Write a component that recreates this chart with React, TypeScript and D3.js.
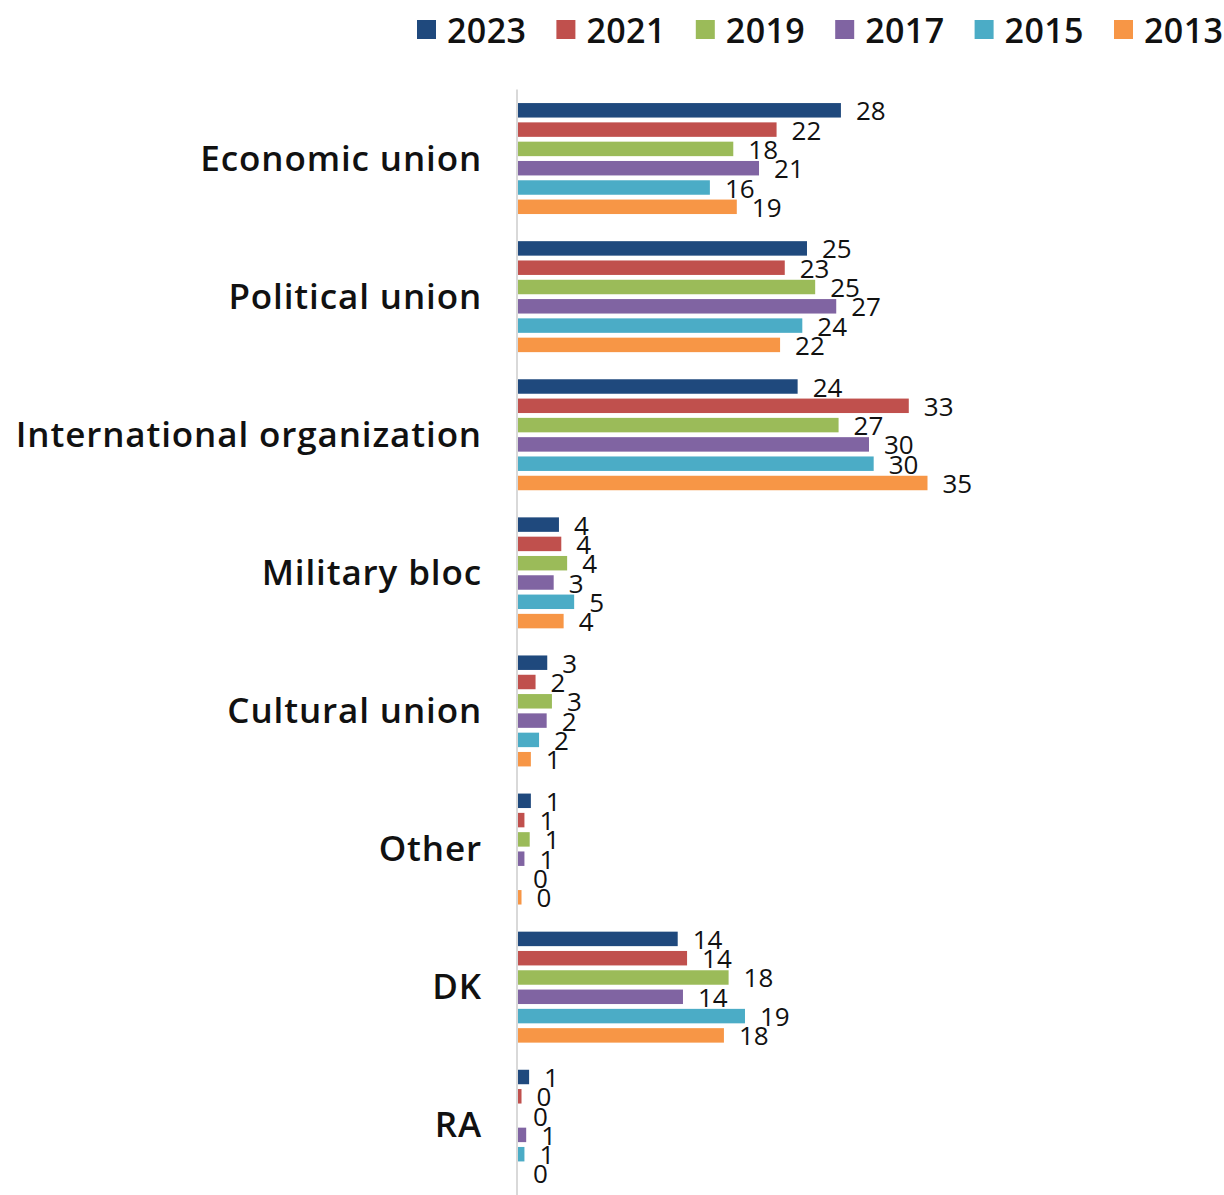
import React from "react";
import * as d3 from "d3";

const categories = [
  "Economic union",
  "Political union",
  "International organization",
  "Military bloc",
  "Cultural union",
  "Other",
  "DK",
  "RA",
];

const seriesNames = ["2023", "2021", "2019", "2017", "2015", "2013"];
const seriesColors = ["#1f497d", "#c0504d", "#9bbb59", "#8064a2", "#4bacc6", "#f79646"];

// values per series, in category order
const v2023 = [27.6, 24.7, 23.9, 3.5, 2.5, 1.1, 13.65, 0.95];
const v2021 = [22.1, 22.8, 33.4, 3.7, 1.5, 0.55, 14.45, 0.3];
const v2019 = [18.4, 25.4, 27.4, 4.2, 2.9, 1.0, 18.0, 0];
const v2017 = [20.6, 27.2, 30.0, 3.05, 2.45, 0.55, 14.1, 0.7];
const v2015 = [16.4, 24.3, 30.4, 4.8, 1.8, 0, 19.4, 0.55];
const v2013 = [18.7, 22.4, 35.0, 3.9, 1.1, 0.3, 17.6, 0];

const seriesValues = [v2023, v2021, v2019, v2017, v2015, v2013];

const W = 1224;
const H = 1195;

export default function App() {
  const x = d3.scaleLinear().domain([0, 35]).range([518, 927.5]);
  const yCat = d3
    .scaleBand<string>()
    .domain(categories)
    .range([89.5, 1194.3])
    .paddingInner(0.1615)
    .paddingOuter(0.0808);
  const ySer = d3
    .scaleBand<string>()
    .domain(seriesNames)
    .range([0, yCat.bandwidth()])
    .paddingInner(0.25)
    .paddingOuter(0.125);

  const font = "'Open Sans', 'DejaVu Sans', sans-serif";

  return (
    <svg
      width={W}
      height={H}
      style={{ position: "absolute", left: 0, top: 0, background: "#fff" }}
    >
      {/* legend */}
      {seriesNames.map((s, i) => {
        const lx = 417 + i * 139.4;
        return (
          <g key={s}>
            <rect x={lx} y={20} width={19} height={19} fill={seriesColors[i]} />
            <text
              x={lx + 30}
              y={29.5}
              dominantBaseline="central"
              fontFamily={font}
              fontWeight={600}
              fontSize={34}
              letterSpacing={0.4}
              fill="#111"
            >
              {s}
            </text>
          </g>
        );
      })}

      {/* category labels */}
      {categories.map((c) => (
        <text
          key={c}
          x={482}
          y={(yCat(c) ?? 0) + yCat.bandwidth() / 2 - 1.5}
          textAnchor="end"
          dominantBaseline="central"
          fontFamily={font}
          fontWeight={600}
          fontSize={35}
          letterSpacing={0.88}
          fill="#111"
        >
          {c}
        </text>
      ))}

      {/* bars */}
      {categories.map((c, ci) => (
        <g key={c} transform={`translate(0,${yCat(c)})`}>
          {seriesNames.map((s, si) => {
            const val = seriesValues[si][ci];
            const y0 = ySer(s) ?? 0;
            const xe = x(val);
            return (
              <g key={s}>
                {val > 0 && (
                  <rect
                    x={x(0)}
                    y={y0}
                    width={xe - x(0)}
                    height={ySer.bandwidth()}
                    fill={seriesColors[si]}
                  />
                )}
                <text
                  x={xe + 15}
                  y={y0 + ySer.bandwidth() / 2}
                  dominantBaseline="central"
                  fontFamily={font}
                  fontSize={26}
                  fill="#111"
                >
                  {Math.round(val)}
                </text>
              </g>
            );
          })}
        </g>
      ))}

      {/* axis line */}
      <line x1={517} x2={517} y1={89.5} y2={H} stroke="#d9d9d9" strokeWidth={2} />
    </svg>
  );
}
